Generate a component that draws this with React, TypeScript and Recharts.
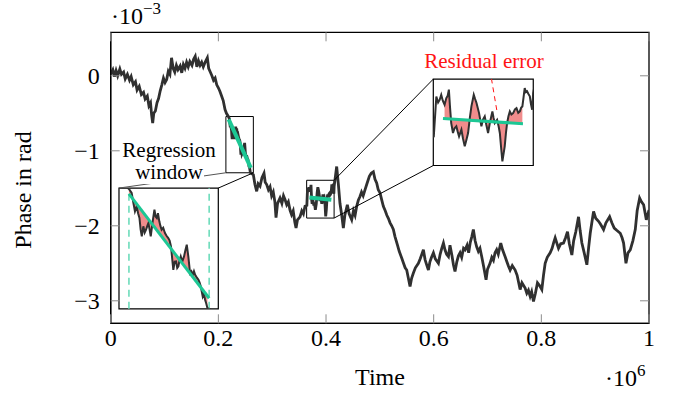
import React from 'react';
import { LineChart, ComposedChart, Line, Area, XAxis, YAxis, ReferenceArea, ReferenceLine } from 'recharts';

// ---- data (time in units of 1e6, phase in units of 1e-3 rad) ----
const walkTime = [
  0.000, 0.004, 0.007, 0.010, 0.013, 0.017, 0.020, 0.024, 0.027, 0.031, 0.035, 0.038, 0.042, 0.046, 0.049,
  0.053, 0.057, 0.061, 0.064, 0.068, 0.071, 0.074, 0.076, 0.078, 0.080, 0.083, 0.086, 0.089, 0.092, 0.095,
  0.098, 0.101, 0.104, 0.107, 0.110, 0.113, 0.116, 0.119, 0.122, 0.125, 0.129, 0.132, 0.135, 0.138, 0.141,
  0.144, 0.147, 0.151, 0.154, 0.157, 0.160, 0.163, 0.166, 0.169, 0.172, 0.176, 0.1795, 0.182, 0.185, 0.188,
  0.191, 0.194, 0.197, 0.200, 0.203, 0.206, 0.209, 0.2124, 0.215,
  0.265, 0.268, 0.2712, 0.274, 0.2774, 0.281, 0.2848, 0.287, 0.2898, 0.293, 0.296, 0.299, 0.302, 0.305,
  0.3071, 0.310, 0.3145, 0.318, 0.321, 0.3238, 0.327, 0.330, 0.3331, 0.336, 0.339, 0.342, 0.3443, 0.347,
  0.3517, 0.355, 0.358, 0.361,
  0.4198, 0.423, 0.4259, 0.429, 0.4322, 0.435, 0.4396, 0.443, 0.4477, 0.451, 0.454, 0.457, 0.460, 0.4631,
  0.466, 0.469, 0.4724, 0.476, 0.4805, 0.484, 0.4879, 0.491, 0.4941, 0.497, 0.5003, 0.503, 0.5065, 0.510,
  0.513, 0.5158, 0.519, 0.522, 0.5251, 0.528, 0.5325, 0.536, 0.5406, 0.544, 0.547, 0.5499, 0.553, 0.5561,
  0.559, 0.5623, 0.566, 0.5716, 0.575, 0.578, 0.5809, 0.584, 0.587, 0.5902, 0.593, 0.596, 0.5995, 0.603,
  0.6088, 0.612, 0.615, 0.6181, 0.621, 0.624, 0.6274, 0.6303, 0.634, 0.6367, 0.6396, 0.643, 0.646, 0.649,
  0.652, 0.6555, 0.6583, 0.662, 0.665, 0.668, 0.671, 0.6737, 0.677, 0.6799, 0.683, 0.686, 0.6892, 0.693,
  0.6973, 0.700, 0.7047, 0.708, 0.711, 0.714, 0.717, 0.720, 0.7246, 0.728, 0.7326, 0.736, 0.739, 0.742,
  0.746, 0.7513, 0.755, 0.7606, 0.764, 0.7699, 0.773, 0.776, 0.7792, 0.782, 0.7854, 0.789, 0.7928, 0.797,
  0.8009, 0.804, 0.8071, 0.811, 0.8164, 0.820, 0.823, 0.8257, 0.8319, 0.836, 0.8412, 0.845, 0.8486, 0.852,
  0.8567, 0.860, 0.864, 0.8691, 0.872, 0.8753, 0.879, 0.8846, 0.888, 0.8908, 0.897, 0.901, 0.9063, 0.910,
  0.9156, 0.920, 0.9268, 0.931, 0.9354, 0.940, 0.9466, 0.950, 0.9528, 0.9572, 0.961, 0.9652, 0.970, 0.9745,
  0.978, 0.9826, 0.986, 0.990, 0.995, 1.000,
];
const walkPhase = [
  0.02, 0.08, -0.01, 0.07, 0.00, 0.09, 0.02, 0.05, -0.04, 0.02, -0.06, -0.01, -0.12, -0.08, -0.19,
  -0.14, -0.25, -0.22, -0.31, -0.27, -0.40, -0.36, -0.52, -0.63, -0.50, -0.47, -0.36, -0.30, -0.20, -0.12,
  -0.03, -0.09, -0.05, 0.06, 0.02, 0.24, 0.10, 0.05, 0.14, 0.08, 0.13, 0.04, 0.15, 0.10, 0.18,
  0.12, 0.19, 0.14, 0.22, 0.26, 0.12, 0.20, 0.14, 0.18, 0.12, 0.19, 0.24, 0.10, 0.05, 0.00,
  -0.06, -0.03, -0.12, -0.16, -0.21, -0.27, -0.33, -0.45, -0.50,
  -1.32, -1.45, -1.54, -1.44, -1.47, -1.36, -1.30, -1.42, -1.45, -1.52, -1.48, -1.60, -1.55, -1.68,
  -1.89, -1.70, -1.63, -1.70, -1.60, -1.65, -1.72, -1.68, -1.79, -1.85, -1.80, -1.95, -2.03, -1.92,
  -1.88, -1.80, -1.84, -1.74,
  -1.21, -1.45, -1.70, -1.85, -2.03, -1.86, -1.72, -1.84, -1.92, -1.80, -1.86, -1.74, -1.66, -1.61,
  -1.55, -1.60, -1.52, -1.44, -1.34, -1.30, -1.28, -1.38, -1.43, -1.52, -1.56, -1.64, -1.74, -1.80,
  -1.86, -1.90, -1.96, -2.00, -2.05, -2.14, -2.25, -2.34, -2.43, -2.50, -2.56, -2.59, -2.70, -2.81,
  -2.70, -2.63, -2.56, -2.50, -2.44, -2.38, -2.32, -2.45, -2.52, -2.59, -2.48, -2.42, -2.36, -2.44,
  -2.50, -2.38, -2.30, -2.23, -2.32, -2.38, -2.41, -2.26, -2.40, -2.52, -2.61, -2.48, -2.40, -2.36,
  -2.42, -2.30, -2.32, -2.26, -2.36, -2.22, -2.14, -2.05, -2.20, -2.28, -2.34, -2.30, -2.41, -2.55,
  -2.72, -2.58, -2.50, -2.42, -2.46, -2.36, -2.32, -2.38, -2.23, -2.32, -2.41, -2.48, -2.54, -2.59,
  -2.53, -2.59, -2.66, -2.85, -2.76, -2.83, -2.90, -2.86, -2.94, -2.88, -3.01, -2.90, -2.76, -2.80,
  -2.85, -2.66, -2.50, -2.42, -2.36, -2.30, -2.22, -2.16, -2.30, -2.24, -2.23, -2.16, -2.08, -2.24,
  -2.39, -2.20, -2.08, -1.88, -2.06, -2.23, -2.34, -2.52, -2.28, -2.10, -1.81, -1.90, -1.94, -1.98,
  -2.05, -1.96, -1.88, -1.96, -2.03, -2.06, -2.10, -2.16, -2.23, -2.50, -2.36, -2.32, -2.20, -2.05,
  -1.80, -1.63, -1.68, -1.72, -1.92, -1.79,
];

// fine detail inside the first regression window
const win1Time = [
  0.2191, 0.2205, 0.2214, 0.2222, 0.2231, 0.2238, 0.2245, 0.2251, 0.2257, 0.2265, 0.2272, 0.2279, 0.2285,
  0.2291, 0.2297, 0.2303, 0.2313, 0.2322, 0.2328, 0.2334, 0.2340, 0.2347, 0.2353, 0.2359, 0.2367, 0.2376,
  0.2384, 0.2393, 0.2400, 0.2407, 0.2413, 0.2419, 0.2426, 0.2433, 0.2439, 0.2445, 0.2451, 0.2457, 0.2465,
  0.2474, 0.2481, 0.2488, 0.2496, 0.2505, 0.2512, 0.2519, 0.2525, 0.2531, 0.2540, 0.2548, 0.2554, 0.2560,
  0.2570, 0.2576, 0.2582, 0.2588, 0.2594,
];
const win1Phase = [
  -0.549, -0.574, -0.636, -0.688, -0.657, -0.700, -0.729, -0.800, -0.844, -0.781, -0.820, -0.802, -0.780,
  -0.761, -0.800, -0.844, -0.750, -0.677, -0.720, -0.729, -0.700, -0.750, -0.780, -0.802, -0.790, -0.823,
  -0.840, -0.854, -0.870, -0.906, -0.980, -1.051, -1.000, -0.999, -1.040, -1.030, -0.990, -0.968, -1.000,
  -0.968, -0.930, -0.895, -0.968, -1.072, -1.060, -1.082, -1.060, -1.082, -1.100, -1.113, -1.130, -1.155,
  -1.217, -1.200, -1.237, -1.260, -1.289,
];

// fine detail inside the second regression window
const win2Time = [
  0.3644, 0.3657, 0.3666, 0.3674, 0.3682, 0.3690, 0.3699, 0.3708, 0.3715, 0.3721, 0.3727, 0.3733, 0.3742,
  0.3750, 0.3759, 0.3766, 0.3773, 0.3785, 0.3793, 0.3802, 0.3810, 0.3819, 0.3828, 0.3836, 0.3848, 0.3855,
  0.3862, 0.3875, 0.3887, 0.3895, 0.3904, 0.3912, 0.3921, 0.3930, 0.3943, 0.3949, 0.3955, 0.3967, 0.3975,
  0.3981, 0.3988, 0.3994, 0.4006, 0.4012, 0.4018, 0.4025, 0.4032, 0.4040, 0.4049, 0.4058, 0.4066, 0.4075,
  0.4083, 0.4090, 0.4096, 0.4102, 0.4108, 0.4114, 0.4120, 0.4127, 0.4134, 0.4140, 0.4146, 0.4151,
];
const win2Phase = [
  -1.728, -1.495, -1.530, -1.514, -1.485, -1.520, -1.543, -1.504, -1.490, -1.455, -1.560, -1.650, -1.708,
  -1.680, -1.669, -1.700, -1.728, -1.689, -1.740, -1.786, -1.750, -1.708, -1.620, -1.553, -1.485, -1.510,
  -1.533, -1.592, -1.669, -1.630, -1.611, -1.660, -1.708, -1.650, -1.582, -1.620, -1.650, -1.631, -1.670,
  -1.708, -1.800, -1.874, -1.786, -1.710, -1.650, -1.610, -1.582, -1.600, -1.592, -1.570, -1.563, -1.590,
  -1.582, -1.560, -1.553, -1.500, -1.446, -1.470, -1.465, -1.480, -1.494, -1.540, -1.572, -1.475,
];

// regression lines (window start/end)
const reg1Time = [0.2191, 0.2603];
const reg1Phase = [-0.58, -1.228];
const reg2Time = [0.3691, 0.4099];
const reg2Phase = [-1.623, -1.654];

const xTicks = [0, 0.2, 0.4, 0.6, 0.8, 1];
const xTickLabels = ['0', '0.2', '0.4', '0.6', '0.8', '1'];
const yTicks = [-3, -2, -1, 0];
const yTickLabels = ['\u22123', '\u22122', '\u22121', '0'];

// ---- layout ----
const W = 673;
const H = 398;
const PLOT_LEFT = 110.7;
const PLOT_TOP = 32.3;
const PLOT_W = 538.3;
const PLOT_H = 291;
const PLOT_RIGHT = PLOT_LEFT + PLOT_W;
const PLOT_BOTTOM = PLOT_TOP + PLOT_H;
const X_DOMAIN: [number, number] = [0, 1];
const Y_DOMAIN: [number, number] = [-3.3, 0.58];
const Y_AXIS_W = 60;
const X_AXIS_H = 50;
const TICK_LEN = 9;

const zoomBox1 = { t0: 0.214, t1: 0.265, p0: -1.293, p1: -0.543 };
const zoomBox2 = { t0: 0.364, t1: 0.415, p0: -1.897, p1: -1.393 };
const insetBox1 = { t0: 0.0154, t1: 0.1999, p0: -3.107, p1: -1.497 };
const insetBox2 = { t0: 0.5993, t1: 0.785, p0: -1.196, p1: -0.044 };

const px = (t: number) => PLOT_LEFT + ((t - X_DOMAIN[0]) / (X_DOMAIN[1] - X_DOMAIN[0])) * PLOT_W;
const py = (v: number) => PLOT_TOP + ((Y_DOMAIN[1] - v) / (Y_DOMAIN[1] - Y_DOMAIN[0])) * PLOT_H;

const FONT = "'Liberation Serif', 'Times New Roman', serif";
const LINE = '#303030';
const GREEN = '#1cc794';
const DASH_GREEN = '#6ddcbb';
const PINK = '#f08080';
const RED = '#ff1414';
const TICK = '#8c8c8c';

type Pt = { t: number; v: number };
const zip = (ts: number[], vs: number[]): Pt[] => ts.map((t, i) => ({ t, v: vs[i] }));

const mainData: Pt[] = [
  ...zip(walkTime, walkPhase),
  ...zip(win1Time, win1Phase),
  ...zip(win2Time, win2Phase),
].sort((a, b) => a.t - b.t);

const reg1Data = zip(reg1Time, reg1Phase);
const reg2Data = zip(reg2Time, reg2Phase);

const residual = (regT: number[], regV: number[]) => {
  const slope = (regV[1] - regV[0]) / (regT[1] - regT[0]);
  return mainData
    .filter((d) => d.t >= regT[0] && d.t <= regT[1])
    .map((d) => ({ t: d.t, res: [regV[0] + slope * (d.t - regT[0]), d.v] }));
};
const res1Data = residual(reg1Time, reg1Phase);
const res2Data = residual(reg2Time, reg2Phase);

const fmtX = (v: number) => xTickLabels[xTicks.indexOf(v)] ?? String(v);
const fmtY = (v: number) => yTickLabels[yTicks.indexOf(v)] ?? String(v);

// custom ticks: label + inward tick marks on both opposite sides
const XTick = (props: any) => {
  const { x, y, payload } = props;
  return (
    <g>
      <line x1={x} x2={x} y1={PLOT_BOTTOM} y2={PLOT_BOTTOM - TICK_LEN} stroke={TICK} strokeWidth={1} />
      <line x1={x} x2={x} y1={PLOT_TOP} y2={PLOT_TOP + TICK_LEN} stroke={TICK} strokeWidth={1} />
      <text x={x} y={y} dy={17} textAnchor="middle" fontFamily={FONT} fontSize={24} fill="#000">
        {fmtX(payload.value)}
      </text>
    </g>
  );
};
const YTick = (props: any) => {
  const { x, y, payload } = props;
  return (
    <g>
      <line x1={PLOT_LEFT} x2={PLOT_LEFT + TICK_LEN} y1={y} y2={y} stroke={TICK} strokeWidth={1} />
      <line x1={PLOT_RIGHT} x2={PLOT_RIGHT - TICK_LEN} y1={y} y2={y} stroke={TICK} strokeWidth={1} />
      <text x={x} y={y} dy={8} textAnchor="end" fontFamily={FONT} fontSize={24} fill="#000">
        {fmtY(payload.value)}
      </text>
    </g>
  );
};

type Box = { t0: number; t1: number; p0: number; p1: number };

function Inset({
  frame,
  view,
  res,
  reg,
  dashed,
  pointer,
}: {
  frame: Box;
  view: Box;
  res: any[];
  reg: Pt[];
  dashed?: number[];
  pointer?: { x: number; y: number }[];
}) {
  const left = px(frame.t0);
  const top = py(frame.p1);
  const w = px(frame.t1) - left;
  const h = py(frame.p0) - top;
  const data = mainData.filter((d) => d.t >= view.t0 - 0.01 && d.t <= view.t1 + 0.01);
  return (
    <div style={{ position: 'absolute', left, top, width: w, height: h }}>
      <ComposedChart width={w} height={h} data={data} margin={{ top: 0, right: 0, bottom: 0, left: 0 }}>
        <XAxis dataKey="t" type="number" domain={[view.t0, view.t1]} allowDataOverflow hide />
        <YAxis type="number" domain={[view.p0, view.p1]} allowDataOverflow hide />
        {(dashed || []).map((t) => (
          <ReferenceLine key={t} x={t} stroke={DASH_GREEN} strokeWidth={1.6} strokeDasharray="7 5" />
        ))}
        <Area
          data={res}
          dataKey="res"
          type="linear"
          stroke="none"
          fill={PINK}
          fillOpacity={0.9}
          isAnimationActive={false}
        />
        <Line dataKey="v" type="linear" stroke={LINE} strokeWidth={2} dot={false} isAnimationActive={false} />
        <Line data={reg} dataKey="v" type="linear" stroke={GREEN} strokeWidth={3} dot={false} isAnimationActive={false} />
        {pointer && (
          <ReferenceLine segment={pointer} stroke={RED} strokeWidth={1} strokeDasharray="5 4" ifOverflow="hidden" />
        )}
      </ComposedChart>
    </div>
  );
}

export default function App() {
  return (
    <div style={{ position: 'relative', width: W, height: H, background: '#fff', overflow: 'hidden' }}>
      <style>{'body{margin:0;}'}</style>
      <LineChart
        width={W}
        height={H}
        data={mainData}
        margin={{
          top: PLOT_TOP,
          right: W - PLOT_RIGHT,
          bottom: H - PLOT_BOTTOM - X_AXIS_H,
          left: PLOT_LEFT - Y_AXIS_W,
        }}
      >
        <XAxis
          dataKey="t"
          type="number"
          domain={X_DOMAIN}
          allowDataOverflow
          ticks={xTicks}
          tick={<XTick />}
          tickLine={false}
          tickSize={0}
          tickMargin={6}
          height={X_AXIS_H}
          axisLine={{ stroke: '#000', strokeWidth: 1.3 }}
        />
        <YAxis
          type="number"
          domain={Y_DOMAIN}
          allowDataOverflow
          ticks={yTicks}
          tick={<YTick />}
          tickLine={false}
          tickSize={0}
          tickMargin={11}
          width={Y_AXIS_W}
          axisLine={{ stroke: '#000', strokeWidth: 1.3 }}
        />

        <ReferenceArea x1={X_DOMAIN[0]} x2={X_DOMAIN[1]} y1={Y_DOMAIN[0]} y2={Y_DOMAIN[1]} fill="none" fillOpacity={0} stroke="#000" strokeWidth={1.3} />

        <Line dataKey="v" type="linear" stroke={LINE} strokeWidth={2.8} dot={false} isAnimationActive={false} />
        <Line data={reg1Data} dataKey="v" type="linear" stroke={GREEN} strokeWidth={4} dot={false} isAnimationActive={false} />
        <Line data={reg2Data} dataKey="v" type="linear" stroke={GREEN} strokeWidth={4} dot={false} isAnimationActive={false} />

        <ReferenceArea x1={zoomBox1.t0} x2={zoomBox1.t1} y1={zoomBox1.p0} y2={zoomBox1.p1} fill="none" fillOpacity={0} stroke="#000" strokeWidth={1} />
        <ReferenceArea x1={zoomBox2.t0} x2={zoomBox2.t1} y1={zoomBox2.p0} y2={zoomBox2.p1} fill="none" fillOpacity={0} stroke="#000" strokeWidth={1} />
        <ReferenceArea x1={insetBox1.t0} x2={insetBox1.t1} y1={insetBox1.p0} y2={insetBox1.p1} fill="#fff" fillOpacity={1} stroke="#000" strokeWidth={1.2} />
        <ReferenceArea x1={insetBox2.t0} x2={insetBox2.t1} y1={insetBox2.p0} y2={insetBox2.p1} fill="#fff" fillOpacity={1} stroke="#000" strokeWidth={1.2} />

        <ReferenceLine segment={[{ x: zoomBox1.t0, y: zoomBox1.p0 }, { x: insetBox1.t0, y: insetBox1.p1 }]} stroke="#555" strokeWidth={1} />
        <ReferenceLine segment={[{ x: zoomBox1.t1, y: zoomBox1.p0 }, { x: insetBox1.t1, y: insetBox1.p1 }]} stroke="#000" strokeWidth={1} />
        <ReferenceLine segment={[{ x: zoomBox2.t1, y: zoomBox2.p1 }, { x: insetBox2.t0, y: insetBox2.p1 }]} stroke="#000" strokeWidth={1} />
        <ReferenceLine segment={[{ x: zoomBox2.t1, y: zoomBox2.p0 }, { x: insetBox2.t0, y: insetBox2.p0 }]} stroke="#000" strokeWidth={1} />
      </LineChart>

      <Inset frame={insetBox1} view={zoomBox1} res={res1Data} reg={reg1Data} dashed={reg1Time} />
      <Inset
        frame={insetBox2}
        view={zoomBox2}
        res={res2Data}
        reg={reg2Data}
        pointer={[{ x: 0.3938, y: -1.39 }, { x: 0.3967, y: -1.585 }]}
      />

      <svg width={W} height={H} style={{ position: 'absolute', left: 0, top: 0, pointerEvents: 'none' }}>
        <text x={111} y={24} fontFamily={FONT} fontSize={24} fill="#000">
          ·10<tspan dy={-10} fontSize={17}>{'\u22123'}</tspan>
        </text>
        <text x={605} y={386} fontFamily={FONT} fontSize={24} fill="#000">
          ·10<tspan dy={-10} fontSize={17}>6</tspan>
        </text>
        <text x={380} y={385} fontFamily={FONT} fontSize={24} fill="#000" textAnchor="middle">Time</text>
        <text transform="translate(31,190) rotate(-90)" fontFamily={FONT} fontSize={24} fill="#000" textAnchor="middle">
          Phase in rad
        </text>
        <text x={169} y={157} fontFamily={FONT} fontSize={21} fill="#000" textAnchor="middle">Regression</text>
        <rect x={134} y={163} width={70} height={21} fill="#fff" />
        <text x={169} y={179} fontFamily={FONT} fontSize={21} fill="#000" textAnchor="middle">window</text>
        <text x={484} y={68} fontFamily={FONT} fontSize={21} fill={RED} textAnchor="middle">Residual error</text>
      </svg>
    </div>
  );
}
